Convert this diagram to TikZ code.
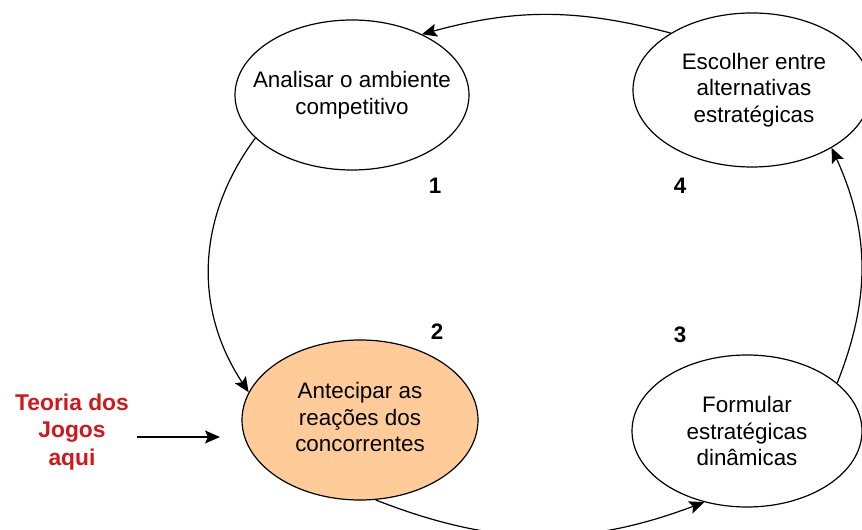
\documentclass[tikz,border=0pt]{standalone}
\usepackage{fontspec}
\setmainfont{Liberation Sans}
\usetikzlibrary{shapes.geometric, arrows.meta}
\definecolor{laranja}{RGB}{255,204,153}
\definecolor{vermelho}{RGB}{208,24,28}
\tikzstyle{etapa} = [ellipse, draw=black, line width=0.6pt, inner sep=0pt]
\tikzstyle{texto} = [align=center, inner sep=0pt, font=\fontsize{11.2}{13.3}\selectfont]
\tikzstyle{numero} = [font=\fontsize{11.2}{13.3}\selectfont\bfseries]
\tikzstyle{arrow} = [line width=0.6pt,-{Stealth[length=7.5pt,width=6.5pt,inset=1.5pt]}]

\begin{document}
\begin{tikzpicture}[x=0.5pt, y=0.5pt]
    \useasboundingbox (0,0) rectangle (862,530);
    % etapas
    \node (analisar) [etapa, minimum width=117pt, minimum height=75pt] at (352,435) {};
    \node (antecipar) [etapa, fill=laranja, minimum width=118pt, minimum height=80pt] at (360,110) {};
    \node (formular) [etapa, minimum width=115pt, minimum height=76pt] at (747,99) {};
    \node (escolher) [etapa, minimum width=119pt, minimum height=77pt] at (752,440) {};
    \node (t1) [texto] at (analisar) {Analisar o ambiente\\competitivo};
    \node (t2) [texto] at ([yshift=1.5pt]antecipar.center) {Antecipar as\\reações dos\\concorrentes};
    \node (t3) [texto] at (formular) {Formular\\estratégicas\\dinâmicas};
    \node (t4) [texto] at ([xshift=1pt]escolher.center) {Escolher entre\\alternativas\\estratégicas};
    % numeros
    \node (n1) [numero] at (435,344) {1};
    \node (n2) [numero] at (437,198) {2};
    \node (n3) [numero] at (680,195) {3};
    \node (n4) [numero] at (680,344) {4};
    % ciclo
    \draw [arrow] (escolher.145) to[bend right=15] (analisar.41);
    \draw [arrow] (analisar.204) to[bend right=35] (antecipar.166);
    \draw [arrow] (antecipar.281) to[bend right=21] (formular.239);
    \draw [arrow] (formular.28) to[bend right=23] (escolher.324);
    % teoria dos jogos
    \node (teoria) [align=center, text=vermelho, font=\fontsize{11.4}{13.8}\selectfont\bfseries] at (72,98) {Teoria dos\\Jogos\\aqui};
    \coordinate (alvo) at (220,93);
    \draw [arrow] ([xshift=0.5pt]teoria.east |- alvo) -- (alvo);
\end{tikzpicture}
\end{document}
